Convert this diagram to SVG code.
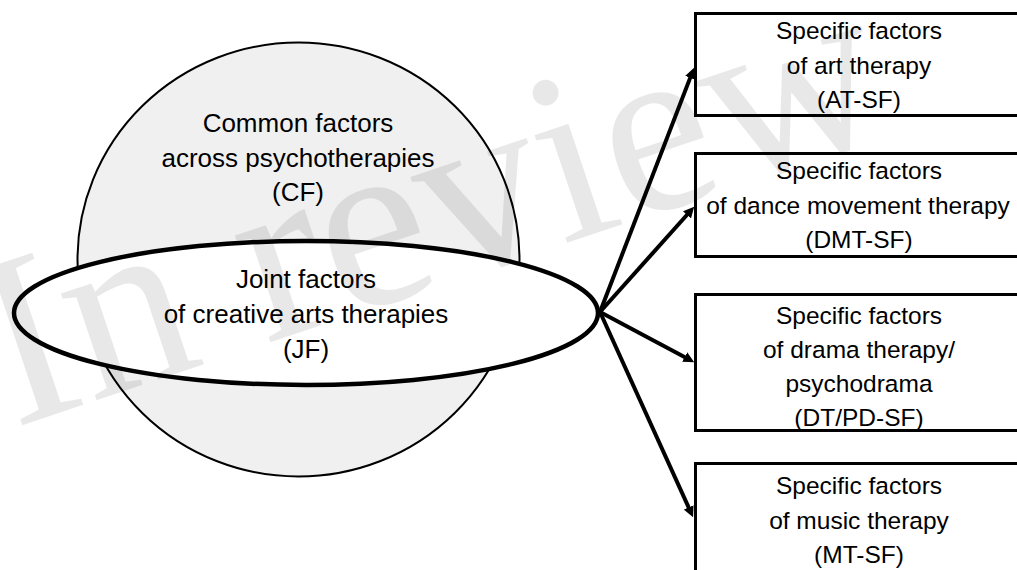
<svg xmlns="http://www.w3.org/2000/svg" width="1017" height="570" viewBox="0 0 1017 570">
  <style>
    .lbl { font-family: "Liberation Sans", Arial, sans-serif; fill: #000; text-anchor: middle; }
    .big { font-size: 26px; }
    .box { font-size: 24.5px; }
    .boxr { fill: #fff; stroke: #000; stroke-width: 3; }
    .conn { stroke: #000; stroke-width: 4; fill: none; marker-end: url(#ah); }
    .wm { font-family: "Liberation Serif", "Times New Roman", serif; font-size: 245px; fill: #000; fill-opacity: 0.09; }
  </style>
  <defs>
    <marker id="ah" viewBox="0 0 10 10" refX="4.2" refY="5" markerWidth="2.7" markerHeight="2.7" orient="auto" markerUnits="strokeWidth">
      <path d="M0,0 L10,5 L0,10 z" fill="#000"/>
    </marker>
  </defs>
  <rect width="1017" height="570" fill="#fff"/>

  <g id="cf">
    <ellipse cx="298.5" cy="259.5" rx="221" ry="217" fill="#f0f0f0" stroke="#000" stroke-width="2"/>
    <text class="lbl big" x="298" y="132">Common factors</text>
    <text class="lbl big" x="298" y="167">across psychotherapies</text>
    <text class="lbl big" x="298" y="201">(CF)</text>
  </g>

  <g id="jf">
    <ellipse cx="306" cy="313" rx="292" ry="72" fill="#fff" stroke="#000" stroke-width="4.5"/>
    <text class="lbl big" x="306" y="288">Joint factors</text>
    <text class="lbl big" x="306" y="323">of creative arts therapies</text>
    <text class="lbl big" x="306" y="358">(JF)</text>
  </g>

  <g id="at-sf">
    <rect class="boxr" x="695.5" y="13.5" width="340" height="102"/>
    <text class="lbl box" x="859" y="39">Specific factors</text>
    <text class="lbl box" x="859" y="73.5">of art therapy</text>
    <text class="lbl box" x="859" y="108">(AT-SF)</text>
  </g>

  <g id="dmt-sf">
    <rect class="boxr" x="695.5" y="153.5" width="340" height="103"/>
    <text class="lbl box" x="859" y="179">Specific factors</text>
    <text class="lbl box" x="858" y="213.5">of dance movement therapy</text>
    <text class="lbl box" x="859" y="248">(DMT-SF)</text>
  </g>

  <g id="dtpd-sf">
    <rect class="boxr" x="695.5" y="294.5" width="340" height="136"/>
    <text class="lbl box" x="859" y="324">Specific factors</text>
    <text class="lbl box" x="859" y="358">of drama therapy/</text>
    <text class="lbl box" x="859" y="392">psychodrama</text>
    <text class="lbl box" x="859" y="425.5">(DT/PD-SF)</text>
  </g>

  <g id="mt-sf">
    <rect class="boxr" x="695.5" y="463.5" width="340" height="130"/>
    <text class="lbl box" x="859" y="494">Specific factors</text>
    <text class="lbl box" x="859" y="528.5">of music therapy</text>
    <text class="lbl box" x="859" y="563">(MT-SF)</text>
  </g>

  <g id="connectors">
    <line class="conn" x1="600" y1="312" x2="691.8" y2="73.6"/>
    <line class="conn" x1="600" y1="312" x2="690" y2="211.5"/>
    <line class="conn" x1="600" y1="312" x2="688.7" y2="359.2"/>
    <line class="conn" x1="600" y1="312" x2="690.5" y2="511.5"/>
  </g>

  <g id="watermark">
    <text class="wm" x="0" y="0" transform="translate(14,428) rotate(-18.5)">In review</text>
  </g>
</svg>
